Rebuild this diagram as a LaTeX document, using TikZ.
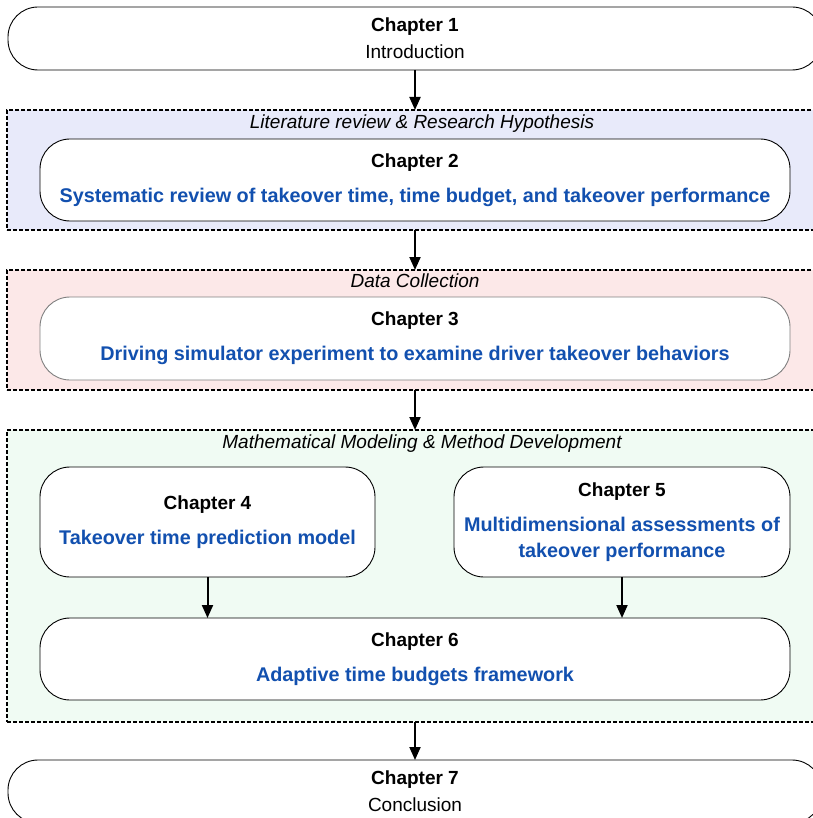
\documentclass[tikz,border=0pt]{standalone}
\usepackage{fontspec}
\setmainfont{Liberation Sans}
\usepackage{xcolor}
\usepackage{tikz}
\usetikzlibrary{shapes,arrows.meta,positioning,fit,backgrounds,calc}

\definecolor{chapblue}{RGB}{18,80,175}
\definecolor{litfill}{RGB}{232,234,250}
\definecolor{datafill}{RGB}{252,232,232}
\definecolor{modfill}{RGB}{240,251,243}

\newcommand{\chapdesc}[1]{\textcolor{chapblue}{\fontsize{19.8}{26}\selectfont\bfseries #1}}

\begin{document}
\begin{tikzpicture}[
    x=1pt, y=1pt,
    chap/.style={rectangle, draw=#1, fill=white, rounded corners=30pt, line width=0.9pt, outer sep=0pt, align=center, inner sep=0pt, font=\fontsize{19}{26}\selectfont},
    chap/.default=black,
    grp/.style={rectangle, draw=black, fill=#1, dash pattern=on 4pt off 2pt, line width=1.1pt, outer sep=0pt, inner sep=0pt},
    grplbl/.style={font=\fontsize{19}{22}\selectfont\itshape, inner sep=0pt, text height=14pt, text depth=4pt},
    arrow/.style={-{Triangle[length=13pt,width=11pt]}, line width=2pt, color=black}
]
    \useasboundingbox (0,0) rectangle (812,-818);

    % Chapter 1
    \node[chap, minimum width=814pt, minimum height=63pt] (ch1) at (415,-38.5) {\textbf{Chapter 1}\\[1pt]Introduction};

    % Chapters 2-3
    \node[chap, minimum width=750pt, minimum height=82pt, below=69pt of ch1] (ch2) {\textbf{Chapter 2}\\[9pt]\chapdesc{Systematic review of takeover time, time budget, and takeover performance}};

    \node[chap=gray, minimum width=750pt, minimum height=83pt, below=76pt of ch2] (ch3) {\textbf{Chapter 3}\\[9pt]\chapdesc{Driving simulator experiment to examine driver takeover behaviors}};

    % Chapters 4-6
    \node[chap, minimum width=335pt, minimum height=110pt, below=87pt of ch3.south west, anchor=north west] (ch4) {\textbf{Chapter 4}\\[9pt]\chapdesc{Takeover time prediction model}};

    \node[chap, minimum width=336pt, minimum height=110pt, right=79pt of ch4] (ch5) {\textbf{Chapter 5}\\[9pt]\chapdesc{Multidimensional assessments of}\\\chapdesc{takeover performance}};

    \node[chap, minimum width=750pt, minimum height=82pt, below=41pt of ch4.south west, anchor=north west] (ch6) {\textbf{Chapter 6}\\[9pt]\chapdesc{Adaptive time budgets framework}};

    % Chapter 7
    \node[chap, minimum width=814pt, minimum height=63pt, below=60pt of ch6] (ch7) {\textbf{Chapter 7}\\[1pt]Conclusion};

    % Groups
    \begin{scope}[on background layer]
        \node[grp=litfill, fit={($(ch2.north west)+(-33,29)$) ($(ch2.south east)+(33,-9)$)}] (g1) {};
        \node[grp=datafill, fit={($(ch3.north west)+(-33,27)$) ($(ch3.south east)+(33,-10)$)}] (g2) {};
        \node[grp=modfill, fit={($(ch4.north west)+(-33,37)$) ($(ch6.south east)+(33,-22)$)}] (g3) {};
    \end{scope}

    % Group labels
    \node[grplbl, below=4pt of g1.north, xshift=7pt] (l1) {Literature review \& Research Hypothesis};
    \node[grplbl, below=3pt of g2.north] (l2) {Data Collection};
    \node[grplbl, below=4pt of g3.north, xshift=7pt] (l3) {Mathematical Modeling \& Method Development};

    % Arrows
    \draw[arrow] (ch1) -- (g1);
    \draw[arrow] (g1) -- (g2);
    \draw[arrow] (g2) -- (g3);
    \draw[arrow] (ch4.south) -- (ch4.south |- ch6.north);
    \draw[arrow] (ch5.south) -- (ch5.south |- ch6.north);
    \draw[arrow] (g3) -- (ch7);
\end{tikzpicture}
\end{document}
